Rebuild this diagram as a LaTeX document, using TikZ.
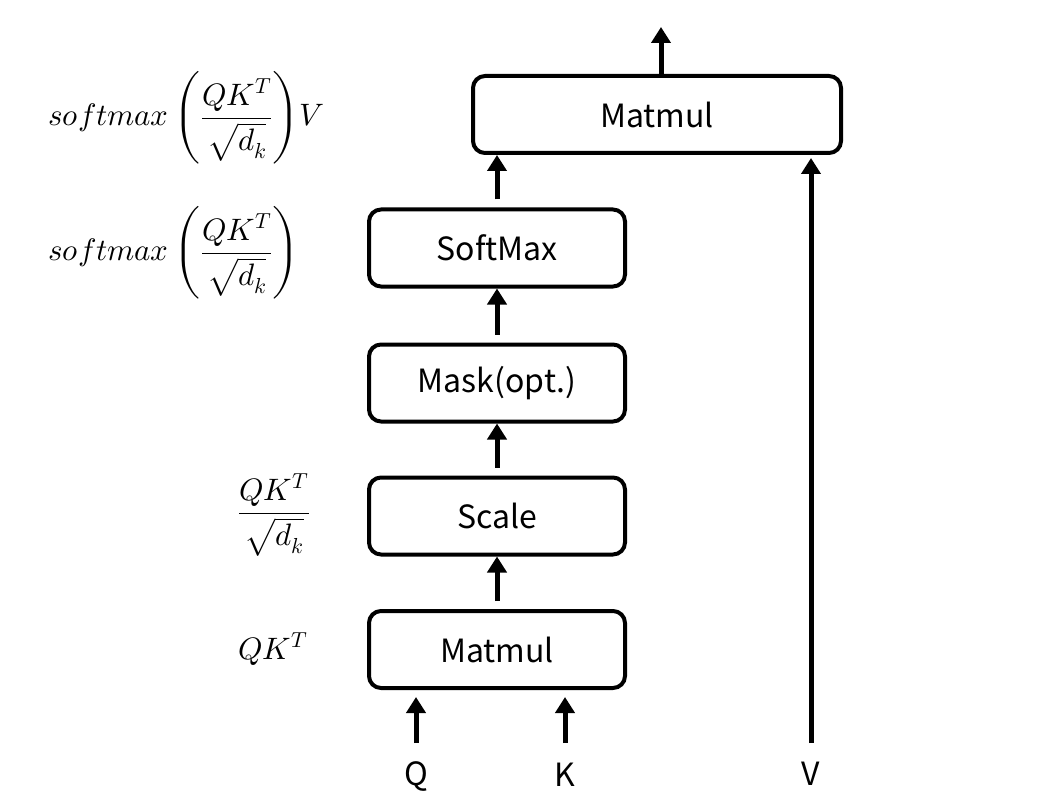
\documentclass[tikz,border=0pt]{standalone}
\usepackage{amsmath}
\usepackage{fontspec}
\usepackage{unicode-math}
\setmathfont{Latin Modern Math}
\newfontfamily\boxfont{Noto Sans CJK JP}
\usetikzlibrary{arrows.meta}
\tikzset{
  blk/.style={draw, line width=4pt, rounded corners=12pt, minimum width=256pt, minimum height=77pt, inner sep=0pt, font=\boxfont\fontsize{32}{40}\selectfont},
  wide/.style={blk, minimum width=368pt},
  arr/.style={line width=5pt, -{Triangle[length=16pt,width=19pt]}},
  lbl/.style={inner sep=0pt, font=\boxfont\fontsize{32}{40}\selectfont},
  eq/.style={inner sep=0pt, font=\fontsize{31}{40}\selectfont}
}
\begin{document}
\begin{tikzpicture}[x=1pt,y=-1pt]
\useasboundingbox (0,0) rectangle (1043,810);
\node[wide] (mm2) at (657,114.5) {Matmul};
\node[blk] (sm) at (497,248) {SoftMax};
\node[blk] (mask) at (497,383) {Mask(opt.)};
\node[blk] (sc) at (497,516) {Scale};
\node[blk] (mm1) at (497,649.5) {Matmul};
\node[lbl] (Q) at (416,776) {Q};
\node[lbl] (K) at (565,775) {K};
\node[lbl] (V) at (811,774) {V};
\coordinate (qs) at (416,743);
\coordinate (ks) at (565,743);
\coordinate (vs) at (811,743);
\coordinate (out) at (661,27);
\draw[arr] (qs) -- ([yshift=-7pt]qs |- mm1.south);
\draw[arr] (ks) -- ([yshift=-7pt]ks |- mm1.south);
\draw[arr] (vs) -- ([yshift=-3pt]vs |- mm2.south);
\draw[arr, shorten <=8pt] (mm1.north) -- (sc.south);
\draw[arr, shorten <=8pt] (sc.north) -- (mask.south);
\draw[arr, shorten <=8pt] (mask.north) -- (sm.south);
\draw[arr, shorten <=8pt] (sm.north) -- (sm.north |- mm2.south);
\draw[arr] (mm2.north -| out) -- (out);
\node[eq, anchor=base west] (e1) at (48,126) {$\displaystyle softmax\left(\frac{QK^T}{\sqrt{d_k}}\right)\!V$};
\node[eq, anchor=base west] (e2) at (48,261) {$\displaystyle softmax\left(\frac{QK^T}{\sqrt{d_k}}\right)$};
\node[eq, anchor=base] (e3) at (274,521) {$\displaystyle \frac{QK^T}{\sqrt{d_k}}$};
\node[eq, anchor=base] (e4) at (273,659) {$QK^T$};
\end{tikzpicture}
\end{document}
